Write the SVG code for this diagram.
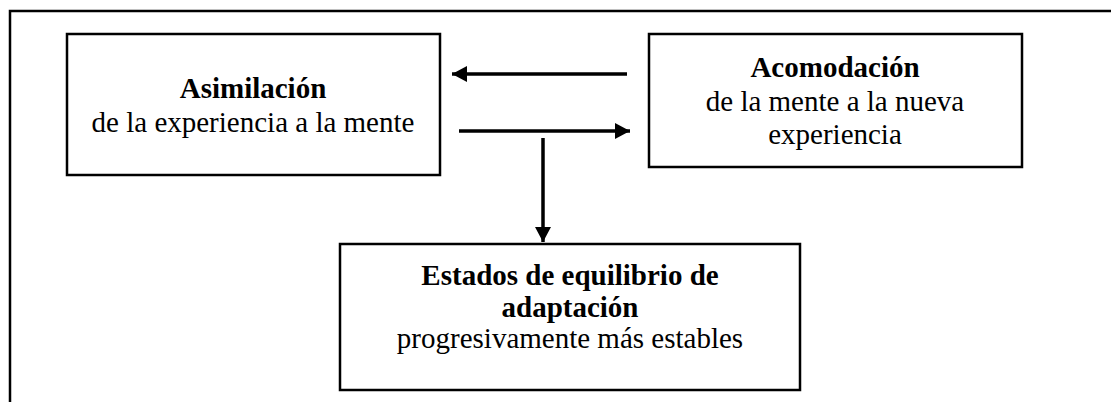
<svg xmlns="http://www.w3.org/2000/svg" width="1111" height="402" viewBox="0 0 1111 402">
  <defs>
    <style>
      .box { fill: #ffffff; stroke: #000000; stroke-width: 2.5; }
      .frame { fill: none; stroke: #000000; stroke-width: 2.5; }
      .t { font-family: "Liberation Serif", "Times New Roman", serif; font-size: 29px; fill: #000000; text-anchor: middle; }
      .b { font-weight: bold; }
      .conn { stroke: #000000; stroke-width: 3.5; fill: none; }
    </style>
    <marker id="ah" markerWidth="15" markerHeight="16" refX="15" refY="8" orient="auto" markerUnits="userSpaceOnUse">
      <path d="M0,0 L15,8 L0,16 Z" fill="#000000"/>
    </marker>
  </defs>
  <rect width="1111" height="402" fill="#ffffff"/>
  <path class="frame" d="M10,402 L10,11 L1111,11"/>
  <g id="asimilacion">
    <rect class="box" x="67" y="34" width="373" height="141"/>
    <text class="t b" x="253" y="98">Asimilación</text>
    <text class="t" x="253" y="132">de la experiencia a la mente</text>
  </g>
  <g id="acomodacion">
    <rect class="box" x="649" y="34" width="373" height="133"/>
    <text class="t b" x="835" y="77">Acomodación</text>
    <text class="t" x="835" y="111">de la mente a la nueva</text>
    <text class="t" x="835" y="144">experiencia</text>
  </g>
  <g id="equilibrio">
    <rect class="box" x="340" y="244" width="460" height="146"/>
    <text class="t b" x="570" y="285">Estados de equilibrio de</text>
    <text class="t b" x="570" y="317">adaptación</text>
    <text class="t" x="570" y="348">progresivamente más estables</text>
  </g>
  <g id="connectors">
    <line class="conn" x1="627" y1="74" x2="452" y2="74" marker-end="url(#ah)"/>
    <line class="conn" x1="459" y1="131" x2="630" y2="131" marker-end="url(#ah)"/>
    <line class="conn" x1="543" y1="138" x2="543" y2="242" marker-end="url(#ah)"/>
  </g>
</svg>
